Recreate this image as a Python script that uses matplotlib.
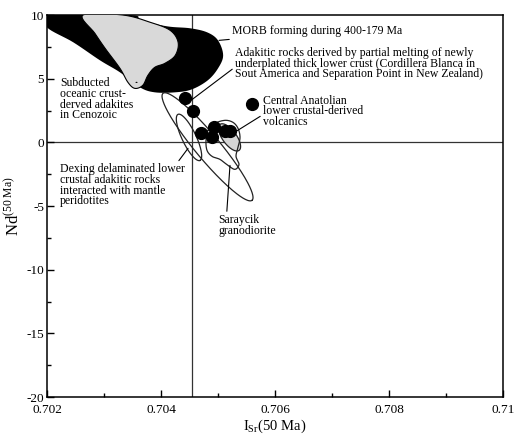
import numpy as np
import matplotlib.pyplot as plt
from matplotlib.ticker import MultipleLocator

plt.rcParams['font.family'] = ['Liberation Serif', 'DejaVu Serif']
plt.rcParams['mathtext.fontset'] = 'custom'
plt.rcParams['mathtext.rm'] = 'Liberation Serif'
plt.rcParams['mathtext.it'] = 'Liberation Serif'
plt.rcParams['axes.unicode_minus'] = False

# muestras (ISr, eNd)
isr = [0.70442, 0.70456, 0.70470, 0.70493, 0.70489, 0.70512, 0.70521, 0.70560]
nd = [3.5, 2.5, 0.7, 1.2, 0.4, 0.9, 0.9, 3.0]

# campo MORB (negro) y adakitas de corteza oceanica subducida (gris)
morb_x = [0.70200, 0.70346, 0.70363, 0.70411, 0.70451, 0.70481, 0.70500, 0.70509,
          0.70500, 0.70482, 0.70454, 0.70425, 0.70389, 0.70363, 0.70328, 0.70293,
          0.70246, 0.70200]
morb_y = [10.0, 10.0, 9.58, 9.11, 8.96, 8.64, 8.01, 6.83,
          5.81, 4.87, 4.16, 3.93, 3.93, 4.32, 5.50, 6.44,
          7.86, 9.03]
sub_x = [0.70263, 0.70333, 0.70381, 0.70416, 0.70430, 0.70425, 0.70407, 0.70389,
         0.70377, 0.70368, 0.70354, 0.70342, 0.70328, 0.70302, 0.70284]
sub_y = [10.0, 10.0, 9.43, 8.80, 7.86, 6.83, 6.21, 5.89,
         5.26, 4.48, 4.24, 4.71, 5.81, 7.38, 8.56]

# Saraycik granodiorita
sar_x = [0.704825, 0.704947, 0.705123, 0.705263, 0.705351, 0.705386, 0.705351, 0.705316,
         0.705368, 0.705298, 0.705175, 0.705035, 0.704895, 0.704807, 0.704789]
sar_y = [0.94, 1.49, 1.73, 1.57, 1.10, 0.39, -0.39, -1.10,
         -1.73, -2.12, -1.81, -1.34, -1.10, -0.63, 0.16]

# elipses: centro, semieje mayor (dx, dy), semieje menor (dx, dy)
dexing = [(0.704816, -0.35), (0.000781, -4.20), (0.000165, 0.62)]
cordillera = [(0.704491, 0.39), (0.000193, -1.81), (0.000111, 0.24)]
anatolia = [(0.705202, 0.39), (0.000167, -1.02), (0.000099, 0.32)]

isr_ref = 0.70454


def elipse(c, a, b, n=200):
    t = np.linspace(0, 2 * np.pi, n)
    x = c[0] + a[0] * np.cos(t) + b[0] * np.sin(t)
    y = c[1] + a[1] * np.cos(t) + b[1] * np.sin(t)
    return x, y


def suavizar(x, y, n=12):
    # Catmull-Rom cerrado para que el contorno no quede anguloso
    p = np.column_stack([x, y])
    m = len(p)
    out = []
    for i in range(m):
        p0, p1, p2, p3 = p[i - 1], p[i], p[(i + 1) % m], p[(i + 2) % m]
        for t in np.linspace(0, 1, n, endpoint=False):
            t2, t3 = t * t, t * t * t
            out.append(0.5 * ((2 * p1) + (-p0 + p2) * t + (2 * p0 - 5 * p1 + 4 * p2 - p3) * t2
                              + (-p0 + 3 * p1 - 3 * p2 + p3) * t3))
    out.append(out[0])
    out = np.array(out)
    return out[:, 0], out[:, 1]


fig = plt.figure(figsize=(5.15, 4.42), dpi=100)
ax = fig.add_axes([0.0913, 0.1018, 0.8854, 0.8642])

ax.axvline(isr_ref, color='#333333', lw=0.9, zorder=1)
ax.axhline(0, color='#333333', lw=0.9, zorder=1)

mx, my = suavizar(morb_x, morb_y, 8)
ax.fill(mx, my, color='black', lw=0, zorder=2)
sx, sy = suavizar(sub_x, sub_y, 8)
ax.fill(sx, sy, facecolor='#d9d9d9', edgecolor='black', lw=0.8, zorder=3)

for e in [dexing, cordillera]:
    ex, ey = elipse(*e)
    ax.plot(ex, ey, color='#222222', lw=0.9, zorder=3)

ex, ey = elipse(*anatolia)
ax.fill(ex, ey, facecolor='#d5d5d5', edgecolor='#222222', lw=0.9, zorder=3)

rx, ry = suavizar(sar_x, sar_y)
ax.plot(rx, ry, color='#222222', lw=0.9, zorder=3)

ax.plot(isr, nd, 'o', color='black', ms=8.5, zorder=5)

fs = 8.5
lp = dict(arrowstyle='-', color='black', lw=0.8, shrinkA=0, shrinkB=0)
ax.annotate('MORB forming during 400-179 Ma', xy=(0.705018, 8.01), xytext=(0.705246, 8.72),
            fontsize=fs, va='center', ha='left', arrowprops=lp)
ax.annotate('Adakitic rocks derived by partial melting of newly\n'
            'underplated thick lower crust (Cordillera Blanca in\n'
            'Sout America and Separation Point in New Zealand)',
            xy=(0.704526, 3.30), xytext=(0.705298, 6.17), fontsize=fs, va='center', ha='left',
            linespacing=0.85, arrowprops=dict(lp, relpos=(0, 0.4)))
ax.annotate('Central Anatolian\nlower crustal-derived\nvolcanics',
            xy=(0.705263, 0.71), xytext=(0.705789, 2.44), fontsize=fs, va='center', ha='left',
            linespacing=0.85, arrowprops=dict(lp, relpos=(0, 0.4)))
ax.annotate('Subducted\noceanic crust-\nderved adakites\nin Cenozoic',
            xy=(0.703579, 4.71), xytext=(0.702228, 3.38), fontsize=fs, va='center', ha='left',
            linespacing=0.85, arrowprops=dict(lp, relpos=(0.62, 0.88)))
ax.annotate('Dexing delaminated lower\ncrustal adakitic rocks\ninteracted with mantle\nperidotites',
            xy=(0.704474, -0.47), xytext=(0.702228, -3.38), fontsize=fs, va='center', ha='left',
            linespacing=0.85, arrowprops=dict(lp, relpos=(0.93, 0.98)))
ax.annotate('Saraycik\ngranodiorite', xy=(0.70521, -1.81), xytext=(0.705, -6.52),
            fontsize=fs, va='center', ha='left', linespacing=0.85,
            arrowprops=dict(lp, relpos=(0.15, 1.0)))

ax.set_xlim(0.702, 0.710)
ax.set_ylim(-20, 10)
ax.set_xticks([0.702, 0.704, 0.706, 0.708, 0.710])
ax.set_xticklabels(['0.702', '0.704', '0.706', '0.708', '0.71'])
ax.set_yticks([-20, -15, -10, -5, 0, 5, 10])
ax.xaxis.set_minor_locator(MultipleLocator(0.001))
ax.yaxis.set_minor_locator(MultipleLocator(2.5))
ax.tick_params(which='both', direction='in', labelsize=9.5, pad=2, top=False, right=False)
ax.tick_params(axis='x', pad=5)
ax.tick_params(which='major', length=5, width=1)
ax.tick_params(which='minor', length=3, width=1)
for s in ax.spines.values():
    s.set_linewidth(1.1)

ax.set_xlabel(r'I$_{\mathrm{Sr}}$(50 Ma)', fontsize=10.5, labelpad=1)
ax.set_ylabel(r'Nd$^{\mathrm{(50\ Ma)}}$', fontsize=12, labelpad=3)

fig.savefig('out.png', dpi=100)
